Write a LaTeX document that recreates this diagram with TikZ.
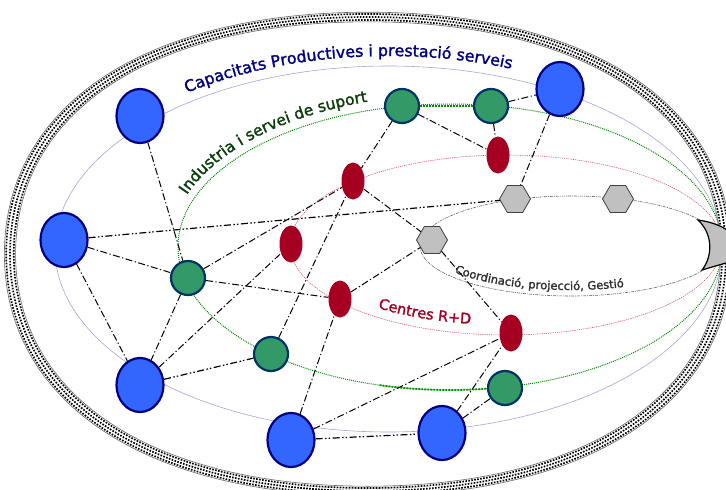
\documentclass[tikz,border=0pt]{standalone}
\usepackage{fontspec}
\setmainfont{DejaVu Sans}
\newfontfamily\lblfont[FakeBold=1.6]{DejaVu Sans}
\usetikzlibrary{shapes.geometric,decorations.text}
\definecolor{pblue}{RGB}{51,102,255}
\definecolor{pnavy}{RGB}{0,0,128}
\definecolor{pgreen}{RGB}{51,153,102}
\definecolor{pgreenb}{RGB}{0,51,102}
\definecolor{pred}{RGB}{165,0,33}
\definecolor{lav}{RGB}{165,165,215}
\definecolor{dgreen}{RGB}{0,140,0}
\definecolor{tgreen}{RGB}{10,60,10}
\definecolor{lred}{RGB}{215,80,110}
\definecolor{hexgray}{RGB}{192,192,192}
\definecolor{tgray}{RGB}{45,45,45}
\newcommand\ringpath[2]{(368+#1,254) .. controls (368+#1,254+0.6125*#2) and (368+0.6125*#1,254+#2) .. (368,254+#2) .. controls (368-0.6125*#1,254+#2) and (368-#1,254+0.6125*#2) .. (368-#1,254) .. controls (368-#1,254-0.6125*#2) and (368-0.6125*#1,254-#2) .. (368,254-#2) .. controls (368+0.6125*#1,254-#2) and (368+#1,254-0.6125*#2) .. (368+#1,254) -- cycle}
\begin{document}
\begin{tikzpicture}[x=1pt,y=-1pt,
  bnode/.style={ellipse, minimum width=47pt, minimum height=54pt, inner sep=0pt, fill=pblue, draw=pnavy, line width=2.2pt},
  gnode/.style={circle, minimum size=34pt, inner sep=0pt, fill=pgreen, draw=pgreenb, line width=2.2pt},
  rnode/.style={ellipse, minimum width=23pt, minimum height=37pt, inner sep=0pt, fill=pred},
  hnode/.style={regular polygon, regular polygon sides=6, minimum size=31pt, inner sep=0pt, fill=hexgray, draw=black!75, line width=0.8pt},
  lk/.style={line width=1pt, dash pattern=on 7pt off 2.5pt on 1.2pt off 2.5pt},
  lkk/.style={line width=1.2pt, dash pattern=on 7pt off 2.5pt on 1.5pt off 2pt on 1.5pt off 2.5pt},
  ringdots/.style={line width=1.7pt, dash pattern=on 1.6pt off 1.4pt},
  txt/.style={decorate, decoration={text along path, text align=left}}
]
\useasboundingbox (0,0) rectangle (726,490);
% outer ring
\foreach \oa/\ob in {-3.8/-3,0/0,3.8/3}{
  \pgfmathsetmacro\ra{358+\oa}\pgfmathsetmacro\rb{237+\ob}
  \draw[ringdots] \ringpath{\ra}{\rb};
}
\draw[black!60, line width=0.6pt] \ringpath{363.6}{241.8};
\draw[black!60, line width=0.6pt] \ringpath{352.4}{232.2};
% inner ellipses
\draw[lav, line width=0.6pt] (388.5,249) ellipse[x radius=333.5pt, y radius=183pt];
\draw[dgreen, line width=1pt, dash pattern=on 1pt off 1pt] (450,247) ellipse[x radius=272pt, y radius=143pt];
\draw[lred, line width=0.6pt, dash pattern=on 1.2pt off 1pt] (506,245) ellipse[x radius=216pt, y radius=90pt];
\draw[black!60, line width=0.6pt, dash pattern=on 3pt off 1pt on 1pt off 1pt] (571,246) ellipse[x radius=151pt, y radius=50pt];
\draw[dgreen, line width=1.8pt, dash pattern=on 1.8pt off 1.2pt] ([shift={(255:272pt and 143pt)}]450,247) arc[start angle=255, end angle=279, x radius=272pt, y radius=143pt];
% texts
\path[txt, decoration={text color=pnavy, text={|\lblfont\fontsize{15.8}{18}\selectfont|Capacitats Productives i prestació serveis}}]
  ([shift={(126:343pt and 193pt)}]388.5,249) arc[start angle=126, end angle=30, x radius=343pt, y radius=193pt];
\path[txt, decoration={text color=tgreen, text={|\lblfont\fontsize{15.5}{18}\selectfont|Industria i servei de suport}}]
  ([shift={(160:280pt and 152pt)}]450,247) arc[start angle=160, end angle=80, x radius=280pt, y radius=152pt];
\path[txt, decoration={text color=pred, text={|\lblfont\fontsize{14.5}{18}\selectfont|Centres R+D}}]
  ([shift={(232:208pt and 80pt)}]506,245) arc[start angle=232, end angle=300, x radius=208pt, y radius=80pt];
\path[txt, decoration={text color=tgray, text={|\lblfont\fontsize{11.5}{14}\selectfont|Coordinació, projecció, Gestió}}]
  ([shift={(217:146pt and 44pt)}]571,246) arc[start angle=217, end angle=320, x radius=146pt, y radius=44pt];
% crescent
\draw[fill=hexgray, line width=1.2pt] (698,220) .. controls (712,222) and (722,226) .. (730,232) -- (730,262) .. controls (722,264) and (712,267) .. (702,270) .. controls (713,256) and (713,234) .. (698,220) -- cycle;
% nodes
\node[bnode] (B1) at (140,116) {};
\node[bnode] (B2) at (64,240) {};
\node[bnode] (B3) at (140,385) {};
\node[bnode] (B4) at (291,440) {};
\node[bnode] (B5) at (442,433) {};
\node[bnode] (B6) at (560,89) {};
\node[gnode] (G1) at (188,278) {};
\node[gnode] (G2) at (271,354) {};
\node[gnode] (G3) at (505,388) {};
\node[gnode] (G4) at (402,106) {};
\node[gnode] (G5) at (491,106) {};
\node[rnode] (R1) at (353,181) {};
\node[rnode] (R2) at (291,244) {};
\node[rnode] (R3) at (340,299) {};
\node[rnode] (R4) at (511,333) {};
\node[rnode] (R5) at (498,155) {};
\node[hnode] (H1) at (432,240) {};
\node[hnode] (H2) at (515,199) {};
\node[hnode] (H3) at (618,199) {};
% thick green between G4 and G5
\draw[dgreen, line width=1.8pt, dash pattern=on 1.8pt off 1.2pt] (G4) -- (G5);
% connectors
\draw[lk] (B1) -- (G1);
\draw[lkk] (B2) -- (H2);
\draw[lk] (B2) -- (G1);
\draw[lk] (B2) -- (B3);
\draw[lk] (G1) -- (B3);
\draw[lk] (G1) -- (R3);
\draw[lk] (G1) -- (R1);
\draw[lk] (B3) -- (R2);
\draw[lkk] (B3) -- (G2);
\draw[lk] (G2) -- (R1);
\draw[lk] (R1) -- (H1);
\draw[lk] (H1) -- (R4);
\draw[lk] (G4) -- (R1);
\draw[lk] (G4) -- (R5);
\draw[lk] (G5) -- (B6);
\draw[lk] (G5) -- (R5);
\draw[lk] (B6) -- (H2);
\draw[lk] (R3) -- (H1);
\draw[lk] (B4) -- (R3);
\draw[lk] (B4) -- (R4);
\draw[lkk] (B4) -- (B5);
\draw[lk] (B5) -- (R4);
\draw[lk] (B5) -- (G3);
\end{tikzpicture}
\end{document}
